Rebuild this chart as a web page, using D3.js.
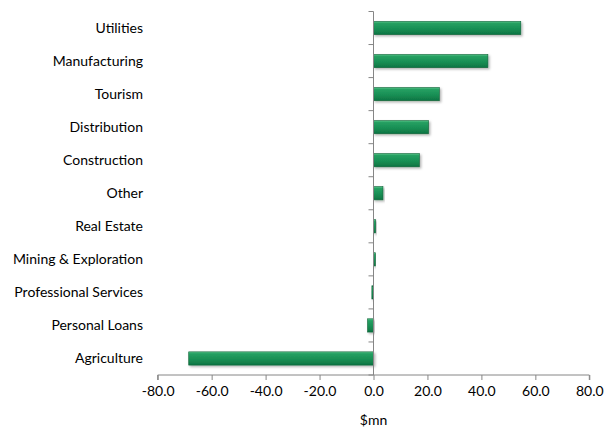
<!DOCTYPE html>
<html>
<head>
<meta charset="utf-8">
<script src="https://cdn.jsdelivr.net/npm/d3@7/dist/d3.min.js"></script>
<style>
  html, body { margin: 0; padding: 0; background: #fff; }
  svg { display: block; }
  text { font-family: Lato, "Open Sans", sans-serif; fill: #000; }
</style>
</head>
<body>
<svg id="chart" width="608" height="430"></svg>
<script>
// Sector contributions, $mn
const sectors = ["Utilities", "Manufacturing", "Tourism", "Distribution", "Construction",
  "Other", "Real Estate", "Mining & Exploration", "Professional Services",
  "Personal Loans", "Agriculture"];
const values = [54.6, 42.4, 24.4, 20.4, 17.0, 3.5, 0.8, 0.7, -0.6, -2.2, -68.5];
const xTicks = [-80, -60, -40, -20, 0, 20, 40, 60, 80];
const xTitle = "$mn";

const svg = d3.select("#chart");
const margin = { left: 157.7, right: 18.7, top: 11.5, bottom: 55 };
const W = 608, H = 430;

const x = d3.scaleLinear().domain([-80, 80]).range([margin.left, W - margin.right]);
const y = d3.scaleBand().domain(sectors).range([margin.top, H - margin.bottom])
  .paddingInner(0.6).paddingOuter(0.3);
const yLine = d3.scaleBand().domain(sectors).range([margin.top, H - margin.bottom]);

// bar fill gradient and drop shadow
const defs = svg.append("defs");
const grad = defs.append("linearGradient").attr("id", "barGrad")
  .attr("x1", 0).attr("y1", 0).attr("x2", 0).attr("y2", 1);
grad.append("stop").attr("offset", "0%").attr("stop-color", "#58c58a");
grad.append("stop").attr("offset", "14%").attr("stop-color", "#26a062");
grad.append("stop").attr("offset", "60%").attr("stop-color", "#178d53");
grad.append("stop").attr("offset", "100%").attr("stop-color", "#0e7443");
const sh = defs.append("filter").attr("id", "shadow")
  .attr("x", "-10%").attr("y", "-30%").attr("width", "130%").attr("height", "180%");
sh.append("feDropShadow").attr("dx", 1.5).attr("dy", 1.5).attr("stdDeviation", 1)
  .attr("flood-color", "#000").attr("flood-opacity", 0.3);

// bars
svg.append("g").selectAll("rect").data(sectors).join("rect")
  .attr("x", (d, i) => x(Math.min(0, values[i])))
  .attr("y", d => y(d))
  .attr("width", (d, i) => Math.abs(x(values[i]) - x(0)))
  .attr("height", y.bandwidth())
  .attr("fill", "url(#barGrad)")
  .attr("stroke", "#0d6236")
  .attr("stroke-width", 0.6)
  .attr("filter", "url(#shadow)");

// x axis along the bottom
const fmt = d => d3.format(".1f")(d).replace("\u2212", "-");
const xAxis = d3.axisBottom(x).tickValues(xTicks).tickFormat(fmt)
  .tickSize(5).tickPadding(6);
const gx = svg.append("g").attr("transform", `translate(0,${H - margin.bottom})`).call(xAxis);
gx.select(".domain").attr("stroke", "#868686").attr("d", `M${x(-80)},5V0H${x(80)}V5`);
gx.selectAll(".tick line").attr("stroke", "#868686");
gx.selectAll(".tick text").style("font-size", "14px").style("font-family", "Lato, sans-serif")
  .attr("fill", "#000");

// vertical category axis at zero
const gy = svg.append("g").attr("transform", `translate(${x(0)},0)`);
gy.append("line").attr("x1", 0).attr("x2", 0)
  .attr("y1", margin.top).attr("y2", H - margin.bottom).attr("stroke", "#868686");
const bounds = sectors.map(d => yLine(d)).concat([H - margin.bottom]);
gy.selectAll("line.tk").data(bounds).join("line").attr("class", "tk")
  .attr("x1", -5).attr("x2", 0).attr("y1", d => d).attr("y2", d => d).attr("stroke", "#868686");

// category labels
svg.append("g").selectAll("text").data(sectors).join("text")
  .attr("x", 143)
  .attr("y", d => yLine(d) + yLine.bandwidth() / 2)
  .attr("dy", "0.35em")
  .attr("text-anchor", "end")
  .style("font-size", "14px")
  .text(d => d);

// axis title
svg.append("text").attr("x", x(0)).attr("y", 425).attr("text-anchor", "middle")
  .style("font-size", "14px").text(xTitle);
</script>
</body>
</html>
